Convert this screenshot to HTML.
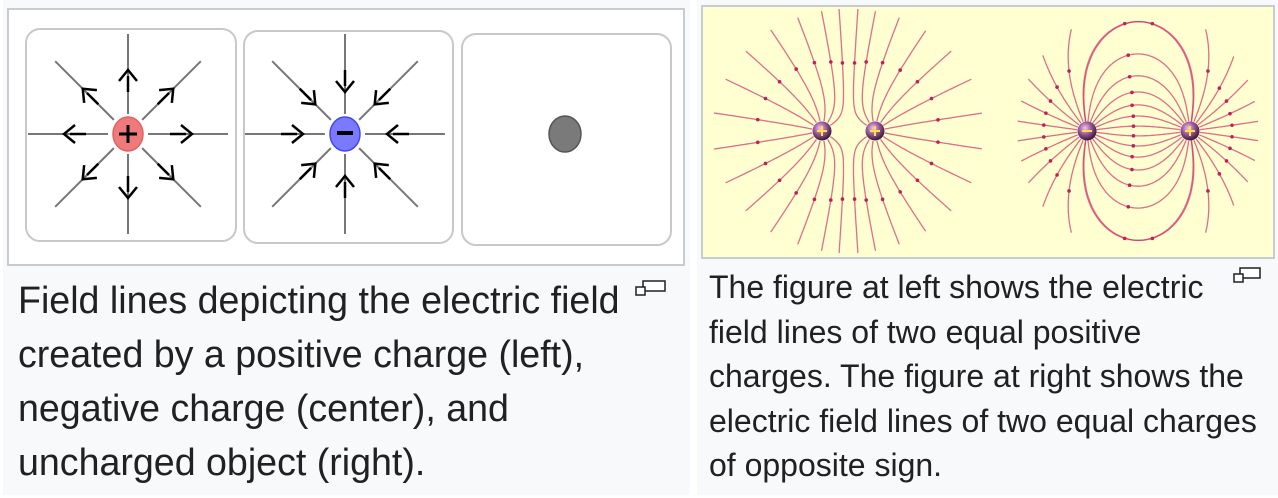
<!DOCTYPE html>
<html><head><meta charset="utf-8"><style>
html,body{margin:0;padding:0;width:1278px;height:498px;background:#fff;overflow:hidden}
.p{position:absolute;background:#f8f9fa}
.t{position:absolute;font-family:"Liberation Sans",Arial,sans-serif;color:#202122;white-space:nowrap}
</style></head><body>
<div class="p" style="left:3px;top:0;width:687px;height:495px"></div>
<div class="p" style="left:697px;top:0;width:581px;height:495px"></div>
<div style="position:absolute;left:7px;top:8px;width:674px;height:254px;border:2px solid #c8ccd1;background:#fff"></div>
<div style="position:absolute;left:701px;top:5px;width:570px;height:250px;border:2px solid #c8ccd1;background:#ffffd2"></div>

<svg style="position:absolute;left:0;top:0" width="1278" height="498">
<defs>
<radialGradient id="ball" cx="40%" cy="35%" r="65%"><stop offset="0" stop-color="#f0c8f0"/><stop offset="0.5" stop-color="#9a5a9a"/><stop offset="1" stop-color="#3a1a3a"/></radialGradient>
</defs>
<g fill="#fff" stroke="#c8c8c8" stroke-width="2">
<rect x="26" y="29" width="210" height="212" rx="14"/>
<rect x="244" y="31" width="209" height="212" rx="14"/>
<rect x="462" y="34" width="209" height="211" rx="14"/>
</g>
<g id="arrows"></g>
<ellipse cx="128" cy="134" rx="15" ry="17" fill="#ee7b7b" stroke="#e06060" stroke-width="1.5"/>
<path d="M119 134H137M128 125V143" stroke="#000" stroke-width="3"/>
<ellipse cx="345" cy="134" rx="15" ry="17" fill="#7a7aff" stroke="#4444ee" stroke-width="1.5"/>
<path d="M337 133H353" stroke="#000" stroke-width="4"/>
<ellipse cx="565" cy="134" rx="16" ry="18" fill="#7a7a7a" stroke="#555" stroke-width="1.5"/>
<g id="fl" fill="none" stroke="#d0306a" stroke-opacity="0.7" stroke-width="1.3"></g>
<g id="dots" fill="#c0205a"></g>
<g>
<circle cx="822" cy="131" r="9.5" fill="url(#ball)"/><circle cx="875" cy="131" r="9.5" fill="url(#ball)"/>
<circle cx="1087" cy="131" r="9.5" fill="url(#ball)"/><circle cx="1190" cy="131" r="9.5" fill="url(#ball)"/>
<path d="M817 131h10M822 126v10M870 131h10M875 126v10M1185 131h10M1190 126v10M1082 131h10" stroke="#ffe040" stroke-width="2"/>
</g>
<g fill="#fff" stroke="#202122" stroke-width="1.5">
<rect x="643" y="281" width="22" height="10"/><rect x="636" y="287" width="9" height="8"/>
<rect x="1240" y="268" width="20" height="10"/><rect x="1234" y="274" width="9" height="8"/>
</g>
</svg>

<div class="t" style="left:18px;top:273px;font-size:37.6px;line-height:54px">Field lines depicting the electric field<br>created by a positive charge (left),<br>negative charge (center), and<br>uncharged object (right).</div>
<div class="t" style="left:709px;top:265px;font-size:32px;line-height:44.6px">The figure at left shows the electric<br>field lines of two equal positive<br>charges. The figure at right shows the<br>electric field lines of two equal charges<br>of opposite sign.</div>

<script>
var NS="http://www.w3.org/2000/svg";
function el(p,tag,a){var e=document.createElementNS(NS,tag);for(var k in a)e.setAttribute(k,a[k]);document.getElementById(p).appendChild(e);return e;}
function star(cx,cy,out){
 for(var i=0;i<8;i++){
  var a=i*Math.PI/4, dx=Math.cos(a), dy=Math.sin(a);
  var L=(i%2)?103:100;
  el("arrows","line",{x1:cx+dx*20,y1:cy+dy*20,x2:cx+dx*L,y2:cy+dy*L,stroke:"#777","stroke-width":2});
  var s=out?1:-1;
  var tx=cx+dx*(out?64:42), ty=cy+dy*(out?64:42);
  var px=-dy,py=dx, bx=tx-dx*11*s, by=ty-dy*11*s;
  el("arrows","polyline",{points:(bx+px*9)+","+(by+py*9)+" "+tx+","+ty+" "+(bx-px*9)+","+(by-py*9),fill:"none",stroke:"#000","stroke-width":2.5});
  el("arrows","line",{x1:tx-dx*6*s,y1:ty-dy*6*s,x2:tx-dx*22*s,y2:ty-dy*22*s,stroke:"#000","stroke-width":2.5});
 }
}
star(128,134,true);star(345,134,false);
function trace(ch,start,sign,cx,cy,ax,ay,stopAt){
 var pts=[];var x=start[0],y=start[1];pts.push([x,y]);
 for(var n=0;n<3000;n++){
  var ex=0,ey=0;
  for(var c of ch){var rx=x-c[0],ry=y-c[1],r2=rx*rx+ry*ry,r=Math.sqrt(r2);ex+=c[2]*rx/(r2*r);ey+=c[2]*ry/(r2*r);}
  var m=Math.hypot(ex,ey);x+=sign*ex/m*1.2;y+=sign*ey/m*1.2;pts.push([x,y]);
  var u=(x-cx)/ax,v=(y-cy)/ay;if(u*u+v*v>1)break;
  var hit=false;for(var c of ch){if(c!==stopAt&&Math.hypot(x-c[0],y-c[1])<9)hit=true;}if(hit)break;
 }
 return pts;
}
function draw(pts){
 var d="M"+pts.map(p=>p[0].toFixed(1)+" "+p[1].toFixed(1)).join("L");
 el("fl","path",{d:d});
 var k=Math.floor(pts.length*0.55);if(pts[k])el("dots","circle",{cx:pts[k][0],cy:pts[k][1],r:1.8});
}
var A=[822,131,1],B=[875,131,1];
[A,B].forEach(function(c){
 var toward=(c===A)?1:-1;
 for(var i=0;i<16;i++){var a=(i+0.5)*2*Math.PI/16;
  if(Math.cos(a)*toward>0.9)continue;
  var s=[c[0]+10*Math.cos(a),c[1]+10*Math.sin(a)];
  var p=trace([A,B],s,1,848,131,135,122,c);draw(p);}
});
var N=[1087,131,-1],P=[1190,131,1];
for(var i=0;i<24;i++){var a=(i+0.5)*2*Math.PI/24;
 var s=[P[0]+10*Math.cos(a),P[1]+10*Math.sin(a)];
 draw(trace([N,P],s,1,1138,131,120,122,P));}
for(var i=0;i<24;i++){var a=(i+0.5)*2*Math.PI/24;
 if(Math.cos(a)>-0.1)continue;
 var s=[N[0]+10*Math.cos(a),N[1]+10*Math.sin(a)];
 draw(trace([N,P],s,-1,1138,131,120,122,N));}
</script>
</body></html>
